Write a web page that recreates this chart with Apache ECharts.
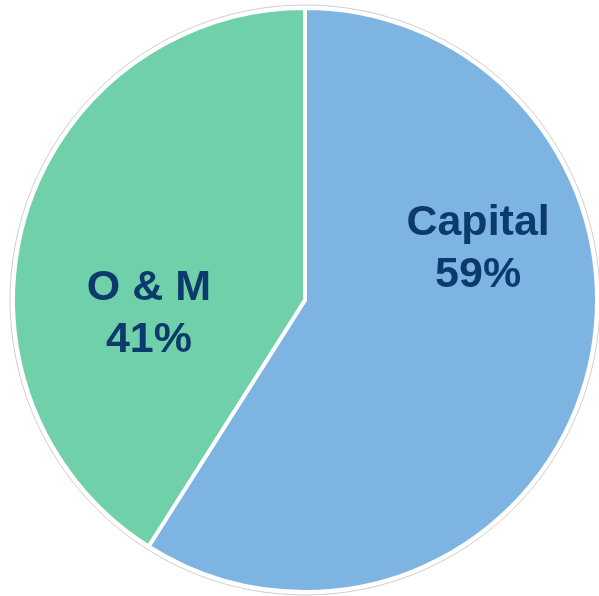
<!DOCTYPE html>
<html>
<head>
<meta charset="utf-8">
<script src="https://cdn.jsdelivr.net/npm/echarts@6/dist/echarts.min.js"></script>
<style>
  html, body { margin: 0; padding: 0; background: #fff; }
  #chart { width: 599px; height: 596px; }
</style>
</head>
<body>
<div id="chart"></div>
<script>
var categories = ['Capital', 'O & M'];
var shares = [59, 41];
var colors = ['#7EB4E1', '#6FD0A9'];

// label nudges (default 'inside' spot -> where the reference puts them)
var labelShift = [[30, -92], [-13, 56]];

var chart = echarts.init(document.getElementById('chart'));
var option = {
  backgroundColor: '#fff',
  animation: false,
  series: [{
    // faint grey rim behind the pie
    type: 'pie',
    silent: true,
    center: [305, 300],
    radius: 295,
    label: { show: false },
    labelLine: { show: false },
    itemStyle: { color: '#fff', borderColor: '#cfcfcf', borderWidth: 1 },
    data: [{ value: 1, name: 'rim' }],
    z: 1
  }, {
    type: 'pie',
    center: [305, 300],
    radius: 292,
    startAngle: 90,
    clockwise: true,
    z: 2,
    itemStyle: { borderColor: '#fff', borderWidth: 4 },
    label: {
      show: true,
      position: 'inside',
      formatter: function (p) { return p.name + '\n' + p.value + '%'; },
      color: '#0C3A6C',
      fontFamily: 'Liberation Sans, Arial, sans-serif',
      fontWeight: 'bold',
      fontSize: 43,
      lineHeight: 52
    },
    labelLayout: function (params) {
      var s = labelShift[params.dataIndex];
      return { dx: s[0], dy: s[1] };
    },
    data: categories.map(function (c, i) {
      return { name: c, value: shares[i], itemStyle: { color: colors[i] } };
    })
  }]
};
chart.setOption(option);
</script>
</body>
</html>
